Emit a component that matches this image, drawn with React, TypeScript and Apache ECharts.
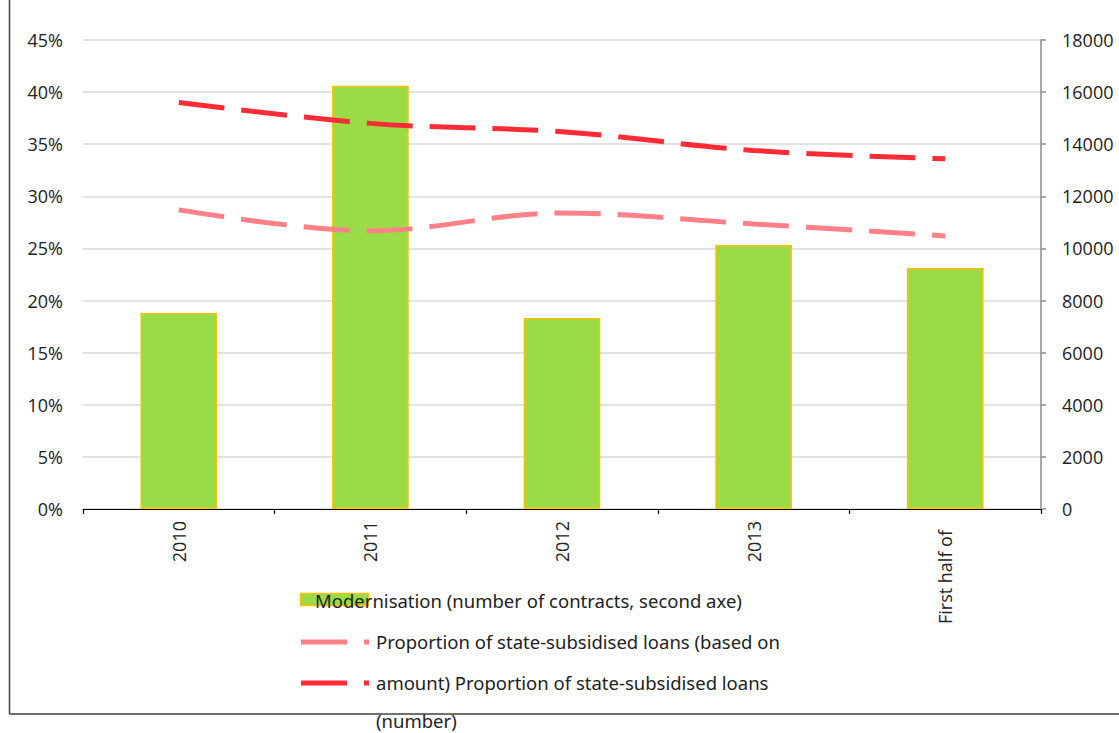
import React, { useEffect, useRef } from "react";
import * as echarts from "echarts";

// Categories and series values
const categories = ["2010", "2011", "2012", "2013", "First half of"];
const modernisation = [7520, 16240, 7330, 10130, 9250];
const shareByAmount = [0.287, 0.267, 0.284, 0.2735, 0.262];
const shareByNumber = [0.39, 0.37, 0.362, 0.344, 0.336];

const seriesNames = [
  "Modernisation (number of contracts, second axe)",
  "Proportion of state-subsidised loans (based on amount)",
  "Proportion of state-subsidised loans (number)",
];

// Legend lines as they wrap in the layout
const legendLines = [
  "Modernisation (number of contracts, second axe)",
  "Proportion of state-subsidised loans (based on",
  "amount) Proportion of state-subsidised loans",
  "(number)",
];

const GREEN = "#99DC47";
const GOLD = "#FFC000";
const PINK = "#FF8188";
const RED = "#FF2B37";
const TEXT = "#222222";
const FONT = "'Open Sans', 'Noto Sans', sans-serif";
const LEGEND_FONT = "'Noto Sans', 'Open Sans', sans-serif";

export default function App() {
  const ref = useRef<HTMLDivElement>(null);

  useEffect(() => {
    if (!ref.current) return;
    const chart = echarts.init(ref.current, null, { renderer: "svg" });

    const legendText = (text: string, x: number, y: number) => ({
      type: "text",
      x,
      y,
      z: 10,
      style: {
        text,
        fill: TEXT,
        font: `18.5px ${LEGEND_FONT}`,
        textVerticalAlign: "middle",
        textAlign: "left",
      },
    });

    const categoryData = categories.map((c, i) =>
      i === categories.length - 1
        ? { value: c, textStyle: { padding: [0, 9, 0, 0] } }
        : c
    );

    chart.setOption({
      animation: false,
      backgroundColor: "#ffffff",
      textStyle: { fontFamily: FONT },
      grid: { left: 83, right: 78, top: 40, bottom: 224, containLabel: false },
      xAxis: {
        type: "category",
        data: categoryData,
        boundaryGap: true,
        axisLine: { show: true, lineStyle: { color: "#000000", width: 1.2 } },
        axisTick: { show: true, length: 5, lineStyle: { color: "#000000", width: 1.2 } },
        axisLabel: {
          rotate: 90,
          fontSize: 18,
          color: TEXT,
          margin: 12,
          fontFamily: FONT,
        },
      },
      yAxis: [
        {
          type: "value",
          min: 0,
          max: 0.45,
          interval: 0.05,
          axisLine: { show: false },
          axisTick: { show: false },
          axisLabel: {
            fontSize: 18,
            color: TEXT,
            margin: 20,
            fontFamily: FONT,
            formatter: (v: number) => `${Math.round(v * 100)}%`,
          },
          splitLine: { show: true, lineStyle: { color: "#d9d9d9", width: 1.5 } },
        },
        {
          type: "value",
          min: 0,
          max: 18000,
          interval: 2000,
          position: "right",
          axisLine: { show: true, lineStyle: { color: "#8c8c8c", width: 1.5 } },
          axisTick: { show: true, inside: false, length: 5, lineStyle: { color: "#8c8c8c", width: 1.5 } },
          axisLabel: {
            fontSize: 18,
            color: TEXT,
            margin: 21,
            fontFamily: FONT,
            formatter: (v: number) => String(v),
          },
          splitLine: { show: false },
        },
      ],
      series: [
        {
          name: seriesNames[0],
          type: "bar",
          yAxisIndex: 1,
          data: modernisation,
          barWidth: "40%",
          itemStyle: { color: GREEN, borderColor: GOLD, borderWidth: 1.5 },
          z: 2,
        },
        {
          name: seriesNames[1],
          type: "line",
          yAxisIndex: 0,
          data: shareByAmount,
          smooth: 0.35,
          symbol: "none",
          lineStyle: { color: PINK, width: 5, type: [46, 17], cap: "butt" },
          z: 3,
        },
        {
          name: seriesNames[2],
          type: "line",
          yAxisIndex: 0,
          data: shareByNumber,
          smooth: 0.35,
          symbol: "none",
          lineStyle: { color: RED, width: 5, type: [46, 17], cap: "butt" },
          z: 3,
        },
      ],
      graphic: [
        // outer frame (left and bottom edges)
        {
          type: "line",
          shape: { x1: 9.5, y1: 0, x2: 9.5, y2: 714 },
          style: { stroke: "#404040", lineWidth: 1.5 },
        },
        {
          type: "line",
          shape: { x1: 9.5, y1: 714, x2: 1119, y2: 714 },
          style: { stroke: "#404040", lineWidth: 1.5 },
        },
        // legend icons
        {
          type: "rect",
          shape: { x: 300.5, y: 593.5, width: 68, height: 12 },
          style: { fill: GREEN, stroke: GOLD, lineWidth: 1.5 },
        },
        {
          type: "line",
          shape: { x1: 301, y1: 642, x2: 369, y2: 642 },
          style: { stroke: PINK, lineWidth: 5, lineDash: [46, 17] },
        },
        {
          type: "line",
          shape: { x1: 301, y1: 683, x2: 369, y2: 683 },
          style: { stroke: RED, lineWidth: 5, lineDash: [46, 17] },
        },
        legendText(legendLines[0], 315, 600),
        legendText(legendLines[1], 376, 641),
        legendText(legendLines[2], 376, 682),
        legendText(legendLines[3], 376, 720),
      ],
    });

    return () => chart.dispose();
  }, []);

  return (
    <div
      ref={ref}
      style={{ position: "fixed", left: 0, top: 0, width: 1119, height: 733, background: "#fff" }}
    />
  );
}
